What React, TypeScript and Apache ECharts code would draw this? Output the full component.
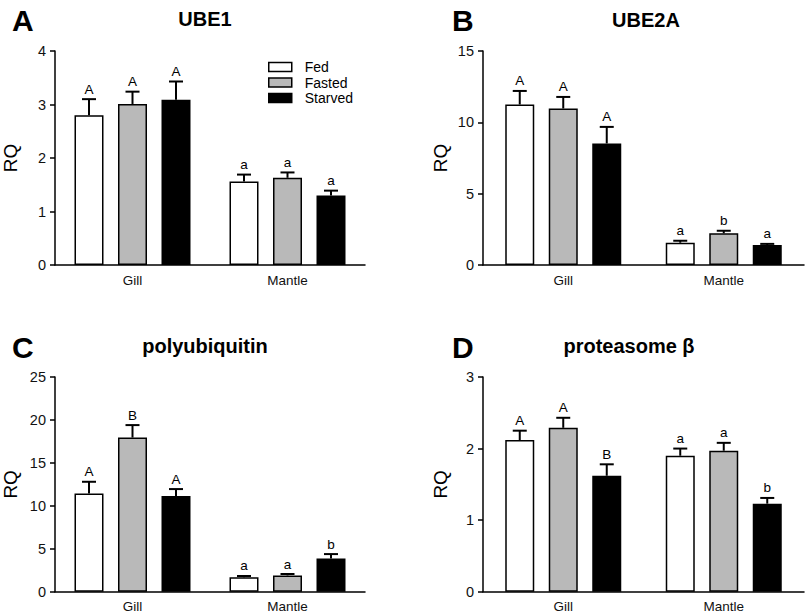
import React, { useEffect, useRef } from "react";
import * as echarts from "echarts";

const categories = ["Gill", "Mantle"];
const groups = ["Fed", "Fasted", "Starved"];
const groupColors = ["#ffffff", "#b9b9b9", "#000000"];

const panelLetters = ["A", "B", "C", "D"];
const panelTitles = ["UBE1", "UBE2A", "polyubiquitin", "proteasome β"];
const yMax = [4, 15, 25, 3];
const yInterval = [1, 5, 5, 1];

// UBE1
const ube1Means = [[2.80, 1.56], [3.01, 1.63], [3.09, 1.30]];
const ube1Errs = [[0.30, 0.13], [0.23, 0.10], [0.34, 0.09]];
const ube1Letters = [["A", "a"], ["A", "a"], ["A", "a"]];
// UBE2A
const ube2aMeans = [[11.25, 1.56], [10.97, 2.22], [8.52, 1.40]];
const ube2aErrs = [[0.95, 0.14], [0.81, 0.18], [1.16, 0.08]];
const ube2aLetters = [["A", "a"], ["A", "b"], ["A", "a"]];
// polyubiquitin
const polyMeans = [[11.44, 1.67], [17.95, 1.90], [11.13, 3.88]];
const polyErrs = [[1.36, 0.16], [1.45, 0.16], [0.82, 0.50]];
const polyLetters = [["A", "a"], ["B", "a"], ["A", "b"]];
// proteasome beta
const protMeans = [[2.12, 1.90], [2.29, 1.97], [1.62, 1.23]];
const protErrs = [[0.13, 0.10], [0.14, 0.11], [0.16, 0.08]];
const protLetters = [["A", "a"], ["A", "a"], ["B", "b"]];

const allMeans = [ube1Means, ube2aMeans, polyMeans, protMeans];
const allErrs = [ube1Errs, ube2aErrs, polyErrs, protErrs];
const allLetters = [ube1Letters, ube2aLetters, polyLetters, protLetters];

const FONT = 'Arial, "Liberation Sans", Helvetica, sans-serif';
const BAR_W = 29;
const BAR_GAP = 14.5;
const BAR_STEP = BAR_W + BAR_GAP;

const grids = [
  { left: 45, top: 51, width: 320, height: 214 },
  { left: 483, top: 51, width: 321, height: 214 },
  { left: 45, top: 377, width: 320, height: 214.7 },
  { left: 483, top: 377, width: 321, height: 214.7 },
];

const letterPos = [
  { x: 12, y: 20 },
  { x: 452, y: 20 },
  { x: 12, y: 347 },
  { x: 452, y: 347 },
];
const titlePos = [
  { x: 205, y: 19 },
  { x: 646, y: 20 },
  { x: 205, y: 346 },
  { x: 629, y: 346 },
];

export default function App() {
  const ref = useRef<HTMLDivElement>(null);
  useEffect(() => {
    document.body.style.margin = "0";
    if (!ref.current) return;
    const chart = echarts.init(ref.current, undefined, { renderer: "svg" });

    const xAxis: any[] = [];
    const yAxis: any[] = [];
    const series: any[] = [];

    for (let p = 0; p < 4; p++) {
      xAxis.push({
        type: "category",
        gridIndex: p,
        data: categories,
        axisLine: { lineStyle: { color: "#000", width: 1.5 } },
        axisTick: { alignWithLabel: true, length: 5, lineStyle: { color: "#000", width: 1.5 } },
        axisLabel: { color: "#111", fontSize: 13.5, fontFamily: FONT, margin: 8 },
      });
      yAxis.push({
        type: "value",
        gridIndex: p,
        min: 0,
        max: yMax[p],
        interval: yInterval[p],
        name: "RQ",
        nameLocation: "middle",
        nameRotate: 90,
        nameGap: p % 2 === 0 ? 35 : 33,
        nameTextStyle: { fontSize: 19, color: "#000", fontFamily: FONT },
        splitLine: { show: false },
        axisLine: { show: true, lineStyle: { color: "#000", width: 1.5 } },
        axisTick: { show: true, length: 5, lineStyle: { color: "#000", width: 1.5 } },
        axisLabel: { color: "#111", fontSize: 14.5, fontFamily: FONT, margin: 9 },
      });
      for (let g = 0; g < 3; g++) {
        series.push({
          type: "bar",
          name: groups[g],
          xAxisIndex: p,
          yAxisIndex: p,
          data: allMeans[p][g],
          barWidth: BAR_W,
          barGap: (BAR_GAP / BAR_W) * 100 + "%",
          itemStyle: { color: groupColors[g], borderColor: "#000", borderWidth: 1.5 },
          z: 2,
        });
      }
      for (let g = 0; g < 3; g++) {
        const means = allMeans[p][g];
        const errs = allErrs[p][g];
        const letters = allLetters[p][g];
        series.push({
          type: "custom",
          xAxisIndex: p,
          yAxisIndex: p,
          z: 5,
          encode: { x: 0, y: 1 },
          data: means.map((m, i) => [i, m, errs[i]]),
          renderItem: (params: any, api: any) => {
            const ci = api.value(0);
            const m = api.value(1);
            const e = api.value(2);
            const base = api.coord([ci, m]);
            const top = api.coord([ci, m + e]);
            const x = base[0] + (g - 1) * BAR_STEP;
            return {
              type: "group",
              children: [
                { type: "line", shape: { x1: x, y1: base[1], x2: x, y2: top[1] }, style: { stroke: "#000", lineWidth: 2 } },
                { type: "line", shape: { x1: x - 7, y1: top[1], x2: x + 7, y2: top[1] }, style: { stroke: "#000", lineWidth: 2 } },
                {
                  type: "text",
                  x: x,
                  y: top[1] - 3,
                  style: {
                    text: letters[params.dataIndex],
                    align: "center",
                    verticalAlign: "bottom",
                    fontSize: 13.5,
                    fontFamily: FONT,
                    fill: "#000",
                  },
                },
              ],
            };
          },
        });
      }
    }

    const graphic: any[] = [];
    for (let p = 0; p < 4; p++) {
      graphic.push({
        type: "text",
        x: letterPos[p].x,
        y: letterPos[p].y,
        style: { text: panelLetters[p], fontSize: 30, fontWeight: "bold", fontFamily: FONT, fill: "#000", verticalAlign: "middle" },
      });
      graphic.push({
        type: "text",
        x: titlePos[p].x,
        y: titlePos[p].y,
        style: { text: panelTitles[p], fontSize: 20, fontWeight: "bold", fontFamily: FONT, fill: "#000", align: "center", verticalAlign: "middle" },
      });
    }

    chart.setOption({
      animation: false,
      backgroundColor: "#fff",
      grid: grids.map((g) => ({ ...g, containLabel: false })),
      xAxis,
      yAxis,
      series,
      graphic,
      legend: {
        data: groups,
        orient: "vertical",
        left: 263,
        top: 55,
        padding: 5,
        itemWidth: 23,
        itemHeight: 9,
        itemGap: 1.5,
        selectedMode: false,
        icon: "rect",
        itemStyle: { borderColor: "#000", borderWidth: 1.5 },
        textStyle: { fontSize: 14, color: "#000", fontFamily: FONT, padding: [0, 0, 0, 8] },
      },
    });
    return () => chart.dispose();
  }, []);
  return <div ref={ref} style={{ width: 807, height: 616 }} />;
}
